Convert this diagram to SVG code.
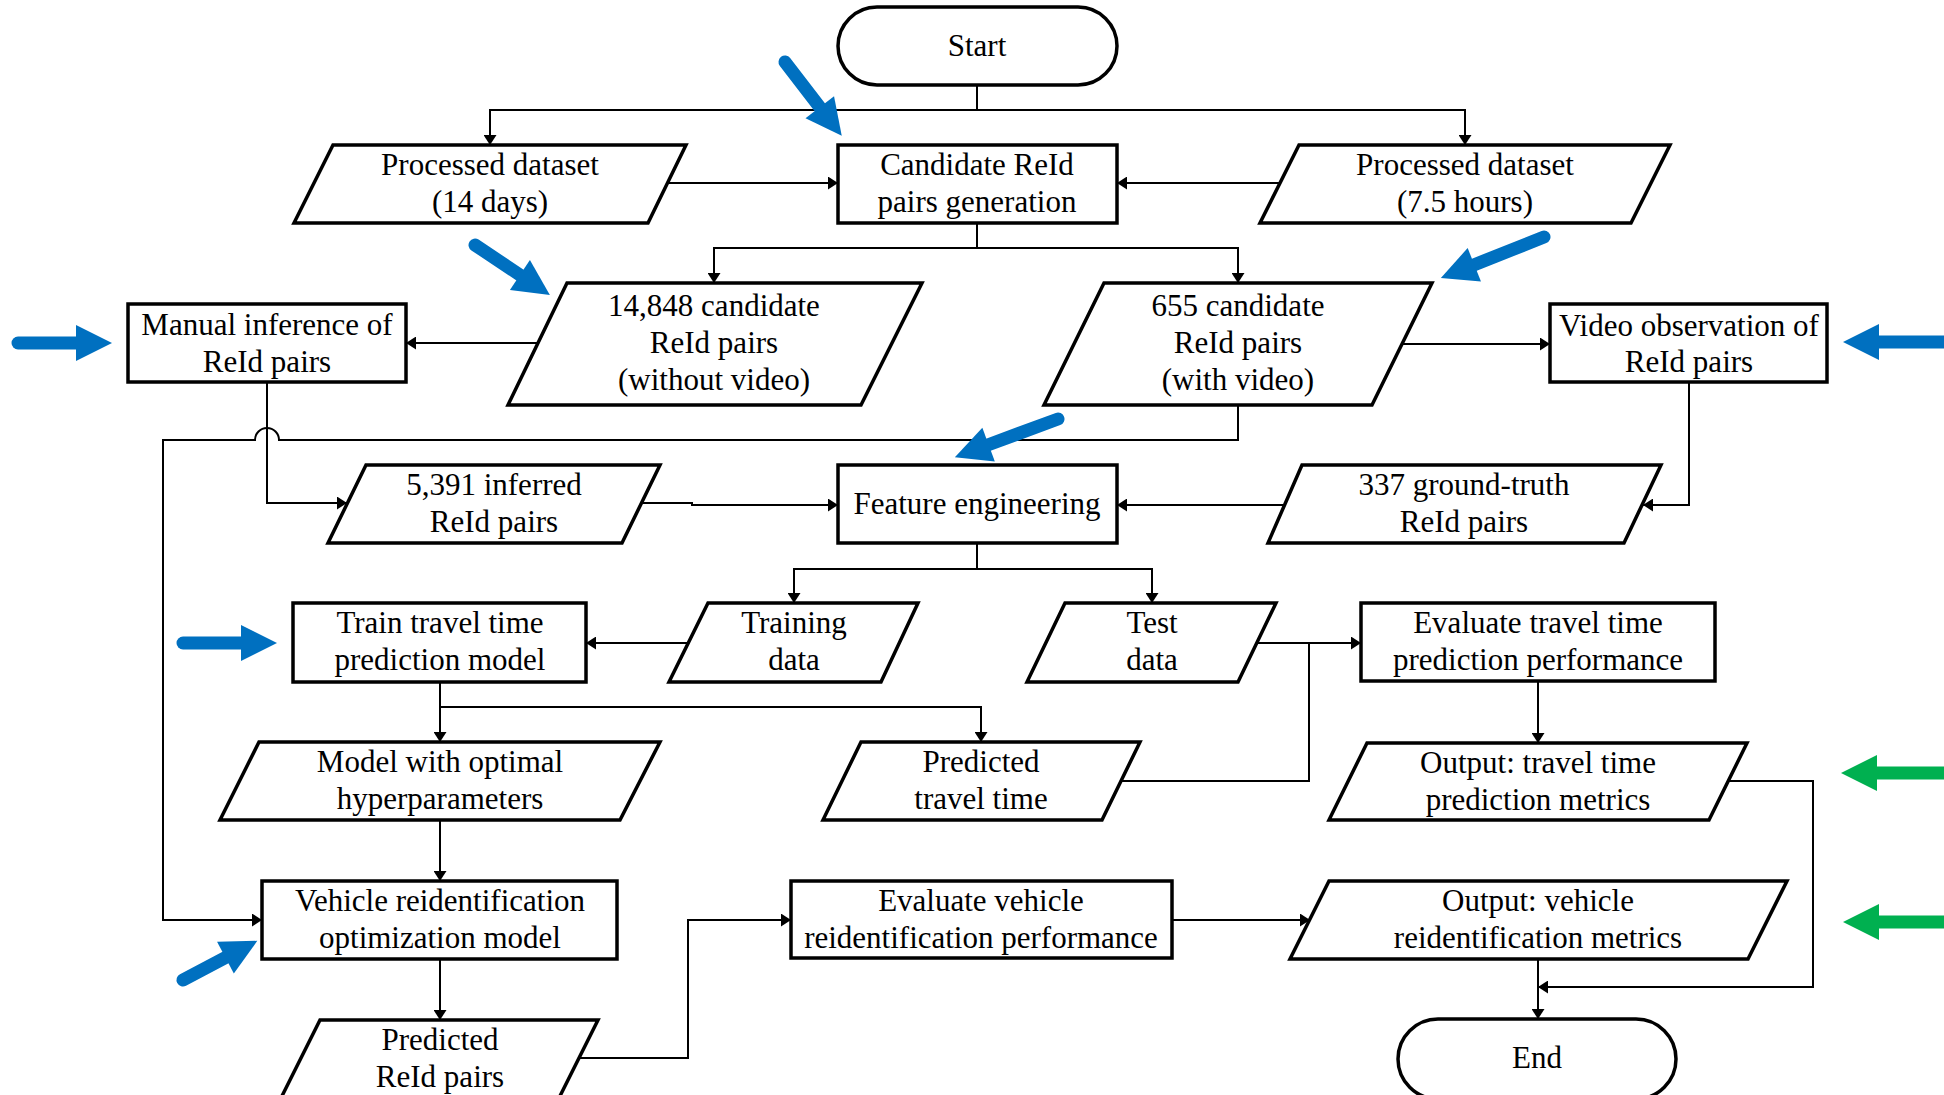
<svg xmlns="http://www.w3.org/2000/svg" width="1944" height="1095" viewBox="0 0 1944 1095">
<style>
.n{fill:#fff;stroke:#000;stroke-width:3.5;stroke-linejoin:miter}
.c{fill:none;stroke:#000;stroke-width:2}
.t{font-family:"Liberation Serif","Times New Roman",serif;font-size:31px;fill:#000;text-anchor:middle}
.bl line{stroke:#0070C0;stroke-width:13;stroke-linecap:round}
.bl polygon{fill:#0070C0}
.gr line{stroke:#00B050;stroke-width:13;stroke-linecap:round}
.gr polygon{fill:#00B050}
</style>
<defs>
<marker id="ah" viewBox="0 0 10 13" refX="10" refY="6.5" markerWidth="10" markerHeight="13" markerUnits="userSpaceOnUse" orient="auto">
<path d="M0,0 L10,6.5 L0,13 z" fill="#000"/>
</marker>
</defs>
<rect width="1944" height="1095" fill="#fff"/>

<g id="connectors" class="c">
<path d="M977,85 V110 H490 V145" marker-end="url(#ah)"/>
<path d="M977,110 H1465 V145" marker-end="url(#ah)"/>
<path d="M668,183 H838" marker-end="url(#ah)"/>
<path d="M1280,183 H1117" marker-end="url(#ah)"/>
<path d="M977,223 V248 H714 V283" marker-end="url(#ah)"/>
<path d="M977,248 H1238 V283" marker-end="url(#ah)"/>
<path d="M538,343 H406" marker-end="url(#ah)"/>
<path d="M1402,344 H1550" marker-end="url(#ah)"/>
<path d="M1238,405 V440 H279 A12,12 0 0 0 255,440 H163 V920 H262" marker-end="url(#ah)"/>
<path d="M267,382 V503 H347" marker-end="url(#ah)"/>
<path d="M641,503 H692 V505 H838" marker-end="url(#ah)"/>
<path d="M1689,382 V505 H1643" marker-end="url(#ah)"/>
<path d="M1285,505 H1117" marker-end="url(#ah)"/>
<path d="M977,543 V569 H794 V603" marker-end="url(#ah)"/>
<path d="M977,569 H1152 V603" marker-end="url(#ah)"/>
<path d="M688,643 H586" marker-end="url(#ah)"/>
<path d="M1257,643 H1361" marker-end="url(#ah)"/>
<path d="M1121,781 H1309 V643"/>
<path d="M440,682 V742" marker-end="url(#ah)"/>
<path d="M440,707 H981 V742" marker-end="url(#ah)"/>
<path d="M1538,681 V743" marker-end="url(#ah)"/>
<path d="M440,820 V881" marker-end="url(#ah)"/>
<path d="M440,959 V1020" marker-end="url(#ah)"/>
<path d="M579,1058 H688 V920 H791" marker-end="url(#ah)"/>
<path d="M1172,920 H1310" marker-end="url(#ah)"/>
<path d="M1728,781 H1813 V987 H1538" marker-end="url(#ah)"/>
<path d="M1538,959 V1019" marker-end="url(#ah)"/>
</g>

<g id="start"><rect class="n" x="838" y="7" width="279" height="78" rx="39"/><text class="t" x="977" y="56">Start</text></g>
<g id="processed14"><polygon class="n" points="333,145 686,145 648,223 294,223"/><text class="t" x="490" y="175">Processed dataset</text><text class="t" x="490" y="212">(14 days)</text></g>
<g id="candidate"><rect class="n" x="838" y="145" width="279" height="78"/><text class="t" x="977" y="175">Candidate ReId</text><text class="t" x="977" y="212">pairs generation</text></g>
<g id="processed75"><polygon class="n" points="1299,145 1670,145 1631,223 1260,223"/><text class="t" x="1465" y="175">Processed dataset</text><text class="t" x="1465" y="212">(7.5 hours)</text></g>
<g id="manual"><rect class="n" x="128" y="304" width="278" height="78"/><text class="t" x="267" y="335">Manual inference of</text><text class="t" x="267" y="372">ReId pairs</text></g>
<g id="cand14848"><polygon class="n" points="567,283 922,283 861,405 508,405"/><text class="t" x="714" y="316">14,848 candidate</text><text class="t" x="714" y="353">ReId pairs</text><text class="t" x="714" y="390">(without video)</text></g>
<g id="cand655"><polygon class="n" points="1104,283 1432,283 1372,405 1044,405"/><text class="t" x="1238" y="316">655 candidate</text><text class="t" x="1238" y="353">ReId pairs</text><text class="t" x="1238" y="390">(with video)</text></g>
<g id="video"><rect class="n" x="1550" y="304" width="277" height="78"/><text class="t" x="1689" y="336">Video observation of</text><text class="t" x="1689" y="372">ReId pairs</text></g>
<g id="inferred"><polygon class="n" points="366,465 660,465 622,543 328,543"/><text class="t" x="494" y="495">5,391 inferred</text><text class="t" x="494" y="532">ReId pairs</text></g>
<g id="feature"><rect class="n" x="838" y="465" width="279" height="78"/><text class="t" x="977" y="514">Feature engineering</text></g>
<g id="groundtruth"><polygon class="n" points="1302,465 1661,465 1624,543 1268,543"/><text class="t" x="1464" y="495">337 ground-truth</text><text class="t" x="1464" y="532">ReId pairs</text></g>
<g id="train"><rect class="n" x="293" y="603" width="293" height="79"/><text class="t" x="440" y="633">Train travel time</text><text class="t" x="440" y="670">prediction model</text></g>
<g id="training"><polygon class="n" points="708,603 918,603 881,682 669,682"/><text class="t" x="794" y="633">Training</text><text class="t" x="794" y="670">data</text></g>
<g id="test"><polygon class="n" points="1065,603 1276,603 1238,682 1027,682"/><text class="t" x="1152" y="633">Test</text><text class="t" x="1152" y="670">data</text></g>
<g id="evaltravel"><rect class="n" x="1361" y="603" width="354" height="78"/><text class="t" x="1538" y="633">Evaluate travel time</text><text class="t" x="1538" y="670">prediction performance</text></g>
<g id="modelopt"><polygon class="n" points="259,742 660,742 620,820 220,820"/><text class="t" x="440" y="772">Model with optimal</text><text class="t" x="440" y="809">hyperparameters</text></g>
<g id="predtravel"><polygon class="n" points="861,742 1140,742 1102,820 823,820"/><text class="t" x="981" y="772">Predicted</text><text class="t" x="981" y="809">travel time</text></g>
<g id="outtravel"><polygon class="n" points="1367,743 1747,743 1709,820 1329,820"/><text class="t" x="1538" y="773">Output: travel time</text><text class="t" x="1538" y="810">prediction metrics</text></g>
<g id="vehicle"><rect class="n" x="262" y="881" width="355" height="78"/><text class="t" x="440" y="911">Vehicle reidentification</text><text class="t" x="440" y="948">optimization model</text></g>
<g id="evalvehicle"><rect class="n" x="791" y="881" width="381" height="77"/><text class="t" x="981" y="911">Evaluate vehicle</text><text class="t" x="981" y="948">reidentification performance</text></g>
<g id="outvehicle"><polygon class="n" points="1329,881 1787,881 1748,959 1290,959"/><text class="t" x="1538" y="911">Output: vehicle</text><text class="t" x="1538" y="948">reidentification metrics</text></g>
<g id="predreid"><polygon class="n" points="320,1020 598,1020 559,1098 281,1098"/><text class="t" x="440" y="1050">Predicted</text><text class="t" x="440" y="1087">ReId pairs</text></g>
<g id="end"><rect class="n" x="1398" y="1019" width="278" height="80" rx="40"/><text class="t" x="1537" y="1068">End</text></g>

<g id="highlights">
<g class="bl" transform="translate(785,62) rotate(52.4)"><line x1="0" y1="0" x2="63" y2="0"/><polygon points="93,0 57,-18 57,18"/></g>
<g class="bl" transform="translate(475,245) rotate(33.7)"><line x1="0" y1="0" x2="60" y2="0"/><polygon points="90,0 54,-18 54,18"/></g>
<g class="bl" transform="translate(18,343)"><line x1="0" y1="0" x2="64" y2="0"/><polygon points="94,0 58,-18 58,18"/></g>
<g class="bl" transform="translate(1544,237) rotate(158.3)"><line x1="0" y1="0" x2="81" y2="0"/><polygon points="111,0 75,-18 75,18"/></g>
<g class="bl" transform="translate(1956,342) rotate(180)"><line x1="0" y1="0" x2="83" y2="0"/><polygon points="113,0 77,-18 77,18"/></g>
<g class="bl" transform="translate(1058,419) rotate(159.7)"><line x1="0" y1="0" x2="80" y2="0"/><polygon points="110,0 74,-18 74,18"/></g>
<g class="bl" transform="translate(183,643)"><line x1="0" y1="0" x2="64" y2="0"/><polygon points="94,0 58,-18 58,18"/></g>
<g class="bl" transform="translate(183,980) rotate(-27.8)"><line x1="0" y1="0" x2="54" y2="0"/><polygon points="84,0 48,-18 48,18"/></g>
<g class="gr" transform="translate(1956,773) rotate(180)"><line x1="0" y1="0" x2="85" y2="0"/><polygon points="115,0 79,-18 79,18"/></g>
<g class="gr" transform="translate(1956,922) rotate(180)"><line x1="0" y1="0" x2="83" y2="0"/><polygon points="113,0 77,-18 77,18"/></g>
</g>
</svg>
